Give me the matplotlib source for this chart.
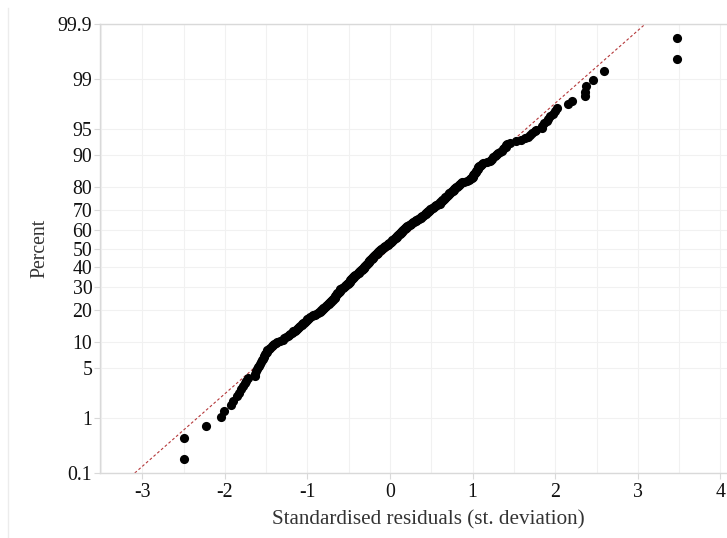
from statistics import NormalDist

import matplotlib
matplotlib.use("Agg")
import matplotlib.pyplot as plt
import numpy as np
from matplotlib.lines import Line2D

# standardised residuals (368 obs, sorted)
residuals = [
    -2.49, -2.49, -2.23, -2.05, -2.01, -1.93, -1.90, -1.85, -1.83, -1.80,
    -1.78, -1.76, -1.74, -1.72, -1.64, -1.63, -1.62, -1.61, -1.60, -1.59,
    -1.57, -1.56, -1.55, -1.54, -1.53, -1.52, -1.51, -1.50, -1.49, -1.49,
    -1.47, -1.45, -1.43, -1.42, -1.40, -1.38, -1.37, -1.33, -1.30, -1.28,
    -1.26, -1.24, -1.22, -1.21, -1.19, -1.18, -1.17, -1.15, -1.14, -1.12,
    -1.11, -1.10, -1.09, -1.07, -1.06, -1.05, -1.04, -1.03, -1.02, -1.01,
    -1.00, -0.99, -0.98, -0.97, -0.95, -0.93, -0.91, -0.89, -0.87, -0.86,
    -0.85, -0.84, -0.83, -0.82, -0.81, -0.81, -0.80, -0.79, -0.78, -0.77,
    -0.76, -0.75, -0.74, -0.74, -0.73, -0.72, -0.71, -0.70, -0.69, -0.69,
    -0.68, -0.67, -0.67, -0.66, -0.66, -0.65, -0.65, -0.64, -0.64, -0.63,
    -0.62, -0.62, -0.61, -0.61, -0.60, -0.60, -0.59, -0.58, -0.57, -0.56,
    -0.55, -0.54, -0.53, -0.53, -0.52, -0.51, -0.51, -0.50, -0.49, -0.49,
    -0.48, -0.48, -0.47, -0.47, -0.46, -0.46, -0.45, -0.45, -0.44, -0.43,
    -0.43, -0.42, -0.41, -0.40, -0.39, -0.38, -0.38, -0.37, -0.36, -0.36,
    -0.35, -0.34, -0.34, -0.33, -0.32, -0.32, -0.31, -0.31, -0.30, -0.30,
    -0.29, -0.29, -0.28, -0.28, -0.27, -0.27, -0.26, -0.26, -0.25, -0.25,
    -0.24, -0.24, -0.23, -0.22, -0.22, -0.21, -0.21, -0.20, -0.19, -0.19,
    -0.18, -0.18, -0.17, -0.16, -0.16, -0.15, -0.15, -0.14, -0.13, -0.13,
    -0.12, -0.11, -0.11, -0.10, -0.09, -0.08, -0.07, -0.07, -0.06, -0.05,
    -0.04, -0.03, -0.03, -0.02, -0.01, 0.00, 0.01, 0.01, 0.02, 0.03,
    0.03, 0.04, 0.05, 0.05, 0.06, 0.07, 0.07, 0.08, 0.08, 0.09,
    0.10, 0.10, 0.11, 0.12, 0.12, 0.13, 0.13, 0.14, 0.14, 0.15,
    0.16, 0.16, 0.17, 0.18, 0.18, 0.19, 0.19, 0.20, 0.21, 0.22,
    0.23, 0.24, 0.25, 0.26, 0.27, 0.28, 0.29, 0.30, 0.31, 0.32,
    0.33, 0.34, 0.35, 0.36, 0.37, 0.38, 0.38, 0.39, 0.40, 0.41,
    0.42, 0.43, 0.43, 0.44, 0.45, 0.46, 0.46, 0.47, 0.48, 0.49,
    0.50, 0.51, 0.52, 0.53, 0.54, 0.55, 0.56, 0.57, 0.58, 0.60,
    0.61, 0.61, 0.62, 0.63, 0.63, 0.64, 0.65, 0.65, 0.66, 0.67,
    0.68, 0.69, 0.70, 0.70, 0.71, 0.72, 0.73, 0.74, 0.75, 0.76,
    0.77, 0.77, 0.78, 0.79, 0.80, 0.81, 0.82, 0.83, 0.84, 0.85,
    0.86, 0.87, 0.90, 0.93, 0.96, 0.97, 0.98, 0.99, 1.00, 1.00,
    1.01, 1.02, 1.02, 1.03, 1.04, 1.04, 1.05, 1.06, 1.06, 1.07,
    1.08, 1.09, 1.10, 1.11, 1.13, 1.17, 1.21, 1.22, 1.24, 1.25,
    1.27, 1.28, 1.30, 1.31, 1.33, 1.35, 1.37, 1.38, 1.40, 1.41,
    1.42, 1.45, 1.52, 1.58, 1.64, 1.67, 1.70, 1.72, 1.75, 1.77,
    1.84, 1.84, 1.86, 1.90, 1.91, 1.94, 1.97, 2.00, 2.02, 2.16,
    2.20, 2.36, 2.36, 2.37, 2.46, 2.59, 3.48, 3.48,
]
percent_ticks = [0.1, 1, 5, 10, 20, 30, 40, 50, 60, 70, 80, 90, 95, 99, 99.9]
percent_labels = ["0.1", "1", "5", "10", "20", "30", "40", "50", "60", "70",
                  "80", "90", "95", "99", "99.9"]
x_ticks = [-3, -2, -1, 0, 1, 2, 3, 4]
x_minor = [-3.5, -2.5, -1.5, -0.5, 0.5, 1.5, 2.5, 3.5]
x_range = [-3.511, 4.443]
ref_percent = [0.1, 99.9]

norm = NormalDist()
x = np.sort(residuals)
n = len(x)
# median-rank plotting positions on a normal probability scale
z = np.array([norm.inv_cdf((i - 0.3) / (n + 0.4)) for i in range(1, n + 1)])
z_lim = [norm.inv_cdf(p / 100) for p in ref_percent]

plt.rcParams["font.family"] = ["Liberation Serif", "DejaVu Serif"]
fig = plt.figure(figsize=(7.27, 5.38), dpi=100)
ax = fig.add_axes([100 / 727, 65 / 538, 657 / 727, 449 / 538])

ax.plot(z_lim, z_lim, color="#b5383a", lw=0.8, ls=(0, (2.5, 2)), zorder=2)
ax.plot(x, z, "o", color="black", ms=6.6, mew=0, zorder=3)

ax.set_xlim(x_range)
ax.set_ylim(z_lim)
ax.set_xticks(x_ticks)
ax.set_xticklabels([str(t) for t in x_ticks])
ax.set_xticks(x_minor, minor=True)
ax.set_yticks([norm.inv_cdf(p / 100) for p in percent_ticks])
ax.set_yticklabels(percent_labels)
ax.grid(which="both", color="#f1f1f1", lw=0.8, zorder=0)
ax.set_axisbelow(True)

for side in ("top", "left", "bottom"):
    ax.spines[side].set_color("#d9d9d9")
    ax.spines[side].set_linewidth(1.0)
ax.spines["right"].set_visible(False)
ax.tick_params(which="major", color="#d9d9d9", length=4, labelsize=14.3,
               labelcolor="#111111")
ax.tick_params(axis="y", pad=1.5)
ax.tick_params(axis="x", pad=3)
ax.tick_params(which="minor", length=0)

ax.set_xlabel("Standardised residuals (st. deviation)", fontsize=15.2,
              color="#333333", labelpad=6)
ax.set_ylabel("Percent", fontsize=14.2, color="#333333", labelpad=6)

fig.add_artist(Line2D([8 / 727, 8 / 727], [0, 1 - 8 / 538], color="#ececec",
                      lw=1, transform=fig.transFigure))

fig.savefig("out.png", dpi=100)
